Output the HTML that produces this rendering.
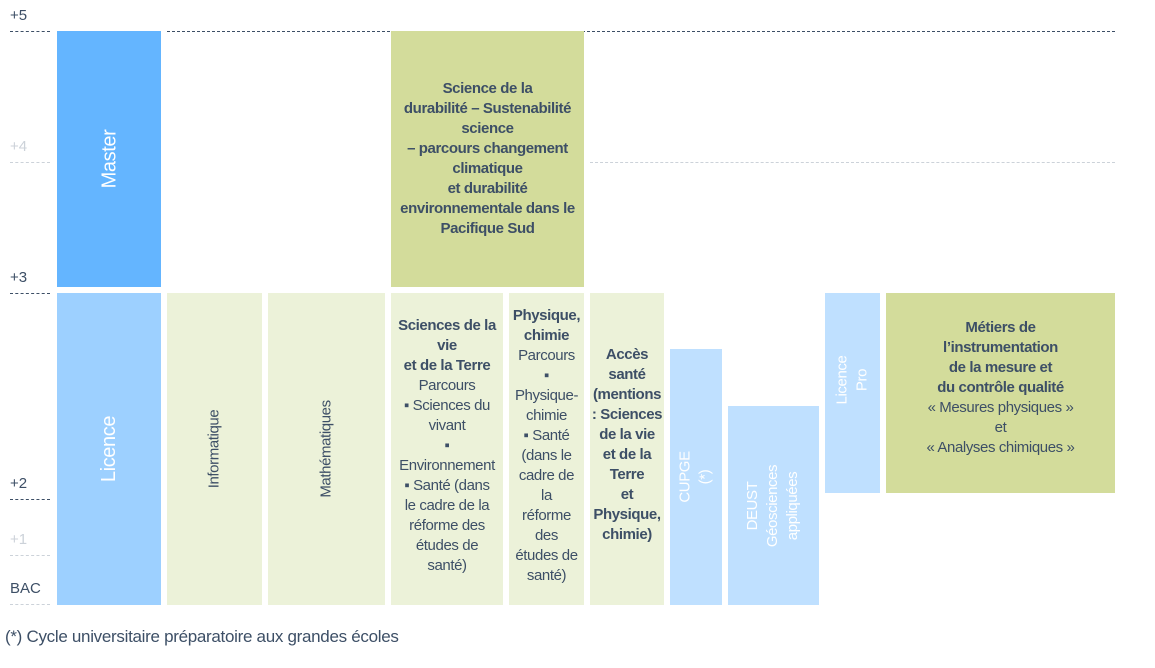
<!DOCTYPE html>
<html><head><meta charset="utf-8"><style>
body{margin:0;width:1155px;height:668px;background:#fff;position:relative;overflow:hidden;font-family:"Liberation Sans",sans-serif;color:#3d4f66}
.b{position:absolute;display:flex;align-items:center;justify-content:center;text-align:center;font-size:15px;line-height:20px;letter-spacing:-0.4px;white-space:nowrap}
.b b{font-weight:bold}
.v{transform:rotate(-90deg);display:block;white-space:nowrap;text-align:center}
.lbl{position:absolute;left:10px;font-size:15px}
.ln{position:absolute;height:0;border-top:1px dashed #3d4f66}
.ll{border-top-color:#ccd2d9}
</style></head><body>
<div class="lbl" style="top:7px">+5</div>
<div class="lbl" style="top:138px;color:#ccd2d9">+4</div>
<div class="lbl" style="top:269px">+3</div>
<div class="lbl" style="top:475px">+2</div>
<div class="lbl" style="top:531px;color:#ccd2d9">+1</div>
<div class="lbl" style="top:580px">BAC</div>
<div class="ln" style="left:10px;width:40px;top:31px"></div>
<div class="ln" style="left:167px;width:948px;top:31px"></div>
<div class="ln ll" style="left:10px;width:40px;top:162px"></div>
<div class="ln ll" style="left:590px;width:525px;top:162px"></div>
<div class="ln" style="left:10px;width:40px;top:293px"></div>
<div class="ln" style="left:10px;width:40px;top:499px"></div>
<div class="ln ll" style="left:10px;width:40px;top:555px"></div>
<div class="ln ll" style="left:10px;width:40px;top:604px"></div>

<div class="b" style="left:57px;top:31px;width:104px;height:256px;background:#64b5ff;color:#fff;font-size:20px"><span class="v">Master</span></div>
<div class="b" style="left:57px;top:293px;width:104px;height:312px;background:#9dd0ff;color:#fff;font-size:20px"><span class="v">Licence</span></div>
<div class="b" style="left:167px;top:293px;width:95px;height:312px;background:#ecf2d9"><span class="v">Informatique</span></div>
<div class="b" style="left:268px;top:293px;width:117px;height:312px;background:#ecf2d9"><span class="v">Mathématiques</span></div>
<div class="b" style="left:391px;top:31px;width:193px;height:256px;background:#d3dc9b"><div><b>Science de la<br>durabilité – Sustenabilité<br>science<br>– parcours changement<br>climatique<br>et durabilité<br>environnementale dans le<br>Pacifique Sud</b></div></div>
<div class="b" style="left:391px;top:293px;width:112px;height:306px;padding-bottom:6px;background:#ecf2d9"><div><b>Sciences de la<br>vie<br>et de la Terre</b><br>Parcours<br>▪ Sciences du<br>vivant<br>▪<br>Environnement<br>▪ Santé (dans<br>le cadre de la<br>réforme des<br>études de<br>santé)</div></div>
<div class="b" style="left:509px;top:293px;width:75px;height:306px;padding-bottom:6px;background:#ecf2d9"><div><b>Physique,<br>chimie</b><br>Parcours<br>▪<br>Physique-<br>chimie<br>▪ Santé<br>(dans le<br>cadre de<br>la<br>réforme<br>des<br>études de<br>santé)</div></div>
<div class="b" style="left:590px;top:293px;width:74px;height:304px;padding-bottom:8px;background:#ecf2d9"><div><b>Accès<br>santé<br>(mentions<br>: Sciences<br>de la vie<br>et de la<br>Terre<br>et<br>Physique,<br>chimie)</b></div></div>
<div class="b" style="left:670px;top:349px;width:52px;height:256px;background:#bfe0ff;color:#fff"><span class="v">CUPGE<br>(*)</span></div>
<div class="b" style="left:728px;top:406px;width:91px;height:199px;background:#bfe0ff;color:#fff"><span class="v">DEUST<br>Géosciences<br>appliquées</span></div>
<div class="b" style="left:825px;top:293px;width:55px;height:200px;background:#bfe0ff;color:#fff"><span class="v" style="margin-bottom:26px">Licence<br>Pro</span></div>
<div class="b" style="left:886px;top:293px;width:229px;height:190px;padding-bottom:10px;background:#d3dc9b"><div><b>Métiers de<br>l’instrumentation<br>de la mesure et<br>du contrôle qualité</b><br>« Mesures physiques »<br>et<br>« Analyses chimiques »</div></div>
<div style="position:absolute;left:5px;top:627px;font-size:17px;letter-spacing:-0.3px">(*) Cycle universitaire préparatoire aux grandes écoles</div>
</body></html>
